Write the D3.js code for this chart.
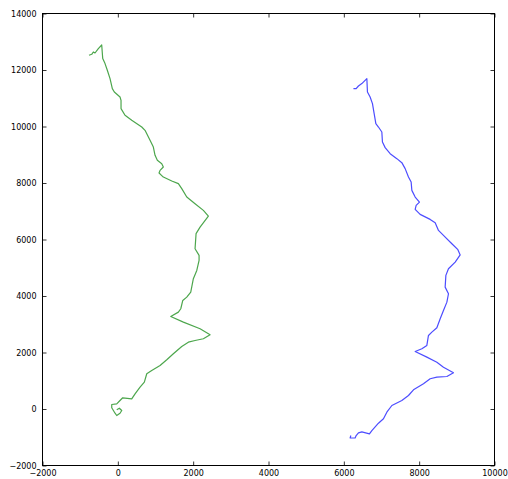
<!DOCTYPE html>
<html>
<head>
<meta charset="utf-8">
<script src="https://cdn.jsdelivr.net/npm/d3@7"></script>
<style>
html,body{margin:0;padding:0;background:#fff;}
svg{display:block;}
text{font-family:"DejaVu Sans",sans-serif;font-size:8px;fill:#000;}
</style>
</head>
<body>
<script>
// Green track (x, y)
const greenX = [-29, 40, 104, 58, -29, -74, -162, -162, -29, 58, 130, 369, 457, 590, 704, 768, 900, 1121, 1299, 1474, 1697, 1872, 2050, 2271, 2449, 2183, 1740, 1405, 1607, 1671, 1724, 1830, 1936, 2005, 2096, 2157, 2157, 2050, 2077, 2183, 2404, 2271, 2050, 1830, 1697, 1607, 1432, 1208, 1094, 1121, 1208, 1166, 1049, 988, 943, 855, 722, 635, 369, 191, 85, 85, 58, -93, -146, -207, -279, -340, -401, -428, -518, -606, -651, -693, -765];
const greenY = [-28, 28, -53, -149, -230, -149, 43, 159, 184, 301, 397, 361, 538, 772, 949, 1247, 1364, 1541, 1743, 1955, 2214, 2366, 2426, 2487, 2628, 2841, 3074, 3276, 3429, 3549, 3843, 3960, 4137, 4612, 4906, 5260, 5437, 5674, 6206, 6439, 6829, 7031, 7268, 7502, 7800, 7977, 8069, 8210, 8352, 8448, 8565, 8685, 8802, 8979, 9273, 9510, 9864, 9981, 10219, 10396, 10633, 10927, 11044, 11221, 11341, 11696, 11990, 12227, 12404, 12886, 12758, 12602, 12638, 12556, 12521];
// Blue track (x, y)
const blueX = [6186, 6167, 6300, 6327, 6388, 6478, 6680, 6744, 6919, 7052, 7142, 7275, 7540, 7716, 7849, 8114, 8292, 8470, 8736, 8911, 8645, 8470, 8204, 7894, 8072, 8204, 8247, 8337, 8470, 8558, 8645, 8736, 8778, 8690, 8709, 8778, 8956, 9089, 9028, 8868, 8645, 8513, 8425, 8292, 8026, 7894, 7920, 8008, 7894, 7806, 7787, 7716, 7628, 7540, 7408, 7230, 7097, 7025, 7009, 6919, 6850, 6805, 6760, 6698, 6627, 6611, 6478, 6388, 6327, 6255];
const blueY = [-939, -1027, -1027, -939, -843, -808, -878, -762, -503, -347, -113, 124, 301, 478, 680, 893, 1070, 1126, 1151, 1282, 1481, 1658, 1835, 2037, 2132, 2249, 2603, 2720, 2876, 3195, 3489, 3783, 4080, 4314, 4729, 4966, 5200, 5455, 5639, 5851, 6145, 6322, 6595, 6712, 6889, 7066, 7208, 7325, 7502, 7739, 8033, 8210, 8508, 8720, 8862, 9039, 9252, 9450, 9804, 9981, 10102, 10456, 10810, 11044, 11221, 11696, 11519, 11434, 11341, 11341];
const xTicks = [-2000, 0, 2000, 4000, 6000, 8000, 10000];
const yTicks = [-2000, 0, 2000, 4000, 6000, 8000, 10000, 12000, 14000];

const W = 508, H = 479;
const m = {left: 42.5, right: 494.5, top: 13.5, bottom: 465.5};
const svg = d3.select("body").append("svg").attr("width", W).attr("height", H);

const x = d3.scaleLinear().domain([-2000, 10000]).range([m.left, m.right]);
const y = d3.scaleLinear().domain([-2000, 14000]).range([m.bottom, m.top]);
const fmt = d3.format("d");

const line = d3.line().x(d => x(d[0])).y(d => y(d[1]));
const greenPts = greenX.map((v, i) => [v, greenY[i]]);
const bluePts = blueX.map((v, i) => [v, blueY[i]]);

svg.append("path").datum(greenPts).attr("d", line)
  .attr("fill", "none").attr("stroke", "#008000").attr("stroke-opacity", 0.7).attr("stroke-width", 1.2).attr("stroke-linejoin", "round");
svg.append("path").datum(bluePts).attr("d", line)
  .attr("fill", "none").attr("stroke", "#0000ff").attr("stroke-opacity", 0.7).attr("stroke-width", 1.2).attr("stroke-linejoin", "round");

// axes (inward ticks on all sides)
const axB = svg.append("g").attr("transform", `translate(0,${m.bottom})`)
  .call(d3.axisBottom(x).tickValues(xTicks).tickFormat(fmt).tickSizeInner(-4).tickSizeOuter(0).tickPadding(5));
const axT = svg.append("g").attr("transform", `translate(0,${m.top})`)
  .call(d3.axisTop(x).tickValues(xTicks).tickFormat("").tickSizeInner(-4).tickSizeOuter(0));
const axL = svg.append("g").attr("transform", `translate(${m.left},0)`)
  .call(d3.axisLeft(y).tickValues(yTicks).tickFormat(fmt).tickSizeInner(-4).tickSizeOuter(0).tickPadding(6));
const axR = svg.append("g").attr("transform", `translate(${m.right},0)`)
  .call(d3.axisRight(y).tickValues(yTicks).tickFormat("").tickSizeInner(-4).tickSizeOuter(0));
[axB, axT, axL, axR].forEach(g => {
  g.select(".domain").remove();
  g.selectAll(".tick line").attr("stroke", "#000").attr("stroke-width", 0.8);
  g.selectAll("text").attr("font-family", "DejaVu Sans").attr("font-size", 8).attr("fill", "#333");
});

svg.append("rect").attr("x", m.left).attr("y", m.top)
  .attr("width", m.right - m.left).attr("height", m.bottom - m.top)
  .attr("fill", "none").attr("stroke", "#000").attr("stroke-width", 1);
</script>
</body>
</html>
